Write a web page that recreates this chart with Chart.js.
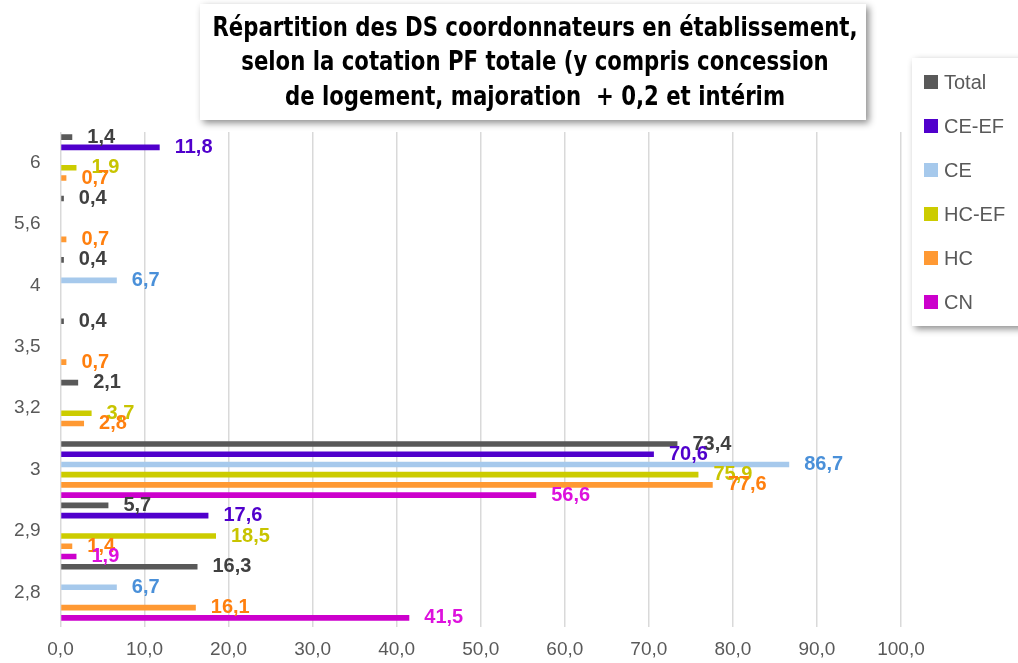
<!DOCTYPE html>
<html>
<head>
<meta charset="utf-8">
<script src="https://cdn.jsdelivr.net/npm/chart.js@4/dist/chart.umd.min.js"></script>
<style>
  html, body { margin: 0; padding: 0; background: #fff; }
  #wrap { width: 1018px; height: 663px; position: relative; }
</style>
</head>
<body>
<div id="wrap"><canvas id="chart"></canvas></div>
<script>
// categories, top to bottom as in the picture
var cotations = ['6', '5,6', '4', '3,5', '3,2', '3', '2,9', '2,8'];

var total = [1.4, 0.4, 0.4, 0.4, 2.1, 73.4, 5.7, 16.3];
var ceEf  = [11.8, null, null, null, null, 70.6, 17.6, null];
var ce    = [null, null, 6.7, null, null, 86.7, null, 6.7];
var hcEf  = [1.9, null, null, null, 3.7, 75.9, 18.5, null];
var hc    = [0.7, 0.7, null, 0.7, 2.8, 77.6, 1.4, 16.1];
var cn    = [null, null, null, null, null, 56.6, 1.9, 41.5];

var xTicks = [0, 10, 20, 30, 40, 50, 60, 70, 80, 90, 100];

var titleLines = [
    'Répartition des DS coordonnateurs en établissement,',
    'selon la cotation PF totale (y compris concession',
    'de logement, majoration  + 0,2 et intérim'
];

function fr(v) {
    return v.toFixed(1).replace('.', ',');
}

function serie(name, values, color, labelColor) {
    return {
        label: name,
        data: values,
        backgroundColor: color,
        labelColor: labelColor,
        categoryPercentage: 1.0,
        barPercentage: 0.55
    };
}

var datasets = [
    serie('Total', total, '#595959', '#404040'),
    serie('CE-EF', ceEf, '#5000CC', '#5000CC'),
    serie('CE', ce, '#A6C9EC', '#4A90D9'),
    serie('HC-EF', hcEf, '#CCCC00', '#C8C400'),
    serie('HC', hc, '#FF9933', '#FF7F0E'),
    serie('CN', cn, '#CC00CC', '#DD11DD')
];

var valueLabels = {
    id: 'valueLabels',
    afterDatasetsDraw: function (chart) {
        var ctx = chart.ctx;
        ctx.save();
        ctx.font = 'bold 20px "Liberation Sans", Arial, sans-serif';
        ctx.textAlign = 'left';
        ctx.textBaseline = 'middle';
        chart.data.datasets.forEach(function (ds, i) {
            var meta = chart.getDatasetMeta(i);
            meta.data.forEach(function (bar, j) {
                var v = ds.data[j];
                if (v === null || v === undefined) return;
                ctx.fillStyle = ds.labelColor;
                ctx.fillText(fr(v), bar.x + 15, bar.y);
            });
        });
        ctx.restore();
    }
};

function shadowBox(ctx, x, y, w, h) {
    ctx.save();
    ctx.shadowColor = 'rgba(0,0,0,0.45)';
    ctx.shadowBlur = 7;
    ctx.shadowOffsetX = 3;
    ctx.shadowOffsetY = 3;
    ctx.fillStyle = '#ffffff';
    ctx.fillRect(x, y, w, h);
    ctx.restore();
}

var boxes = {
    id: 'boxes',
    afterDraw: function (chart) {
        var ctx = chart.ctx;

        // title, squeezed to the narrow look of the original
        shadowBox(ctx, 200, 4, 666, 116);
        ctx.save();
        ctx.fillStyle = '#000000';
        ctx.font = 'bold 26px "Liberation Sans Narrow", "DejaVu Sans Condensed", sans-serif';
        ctx.textAlign = 'center';
        ctx.textBaseline = 'middle';
        var squeeze = 645 / ctx.measureText(titleLines[0]).width;
        titleLines.forEach(function (line, i) {
            var w = ctx.measureText(line).width * squeeze;
            ctx.fillText(line, 535, 29 + i * 34.5, w);
        });
        ctx.restore();

        // legend
        shadowBox(ctx, 912, 58, 120, 268);
        ctx.save();
        ctx.font = '20px "Liberation Sans", Arial, sans-serif';
        ctx.textAlign = 'left';
        ctx.textBaseline = 'middle';
        chart.data.datasets.forEach(function (ds, i) {
            var cy = 82 + i * 44;
            ctx.fillStyle = ds.backgroundColor;
            ctx.fillRect(924, cy - 7, 14, 14);
            ctx.fillStyle = '#595959';
            ctx.fillText(ds.label, 944, cy + 1);
        });
        ctx.restore();
    }
};

new Chart(document.getElementById('chart'), {
    type: 'bar',
    data: {
        labels: cotations,
        datasets: datasets
    },
    options: {
        indexAxis: 'y',
        responsive: true,
        maintainAspectRatio: false,
        animation: false,
        layout: {
            padding: { top: 132, right: 117, left: 0, bottom: 0 }
        },
        plugins: {
            legend: { display: false },
            title: { display: false },
            tooltip: { enabled: false }
        },
        scales: {
            x: {
                min: 0,
                max: 100,
                afterFit: function (scale) { scale.height = 40; },
                afterBuildTicks: function (scale) {
                    scale.ticks = xTicks.map(function (v) { return { value: v }; });
                },
                grid: {
                    color: '#d9d9d9',
                    lineWidth: 1.5,
                    drawTicks: true,
                    tickLength: 4
                },
                border: { display: false },
                ticks: {
                    color: '#595959',
                    font: { family: '"Liberation Sans", Arial, sans-serif', size: 19 },
                    padding: 11,
                    callback: function (v) { return fr(v); }
                }
            },
            y: {
                afterFit: function (scale) { scale.width = 60.5; },
                grid: { display: false, drawTicks: false },
                border: { display: false },
                ticks: {
                    color: '#595959',
                    font: { family: '"Liberation Sans", Arial, sans-serif', size: 19 },
                    padding: 20
                }
            }
        }
    },
    plugins: [valueLabels, boxes]
});
</script>
</body>
</html>
